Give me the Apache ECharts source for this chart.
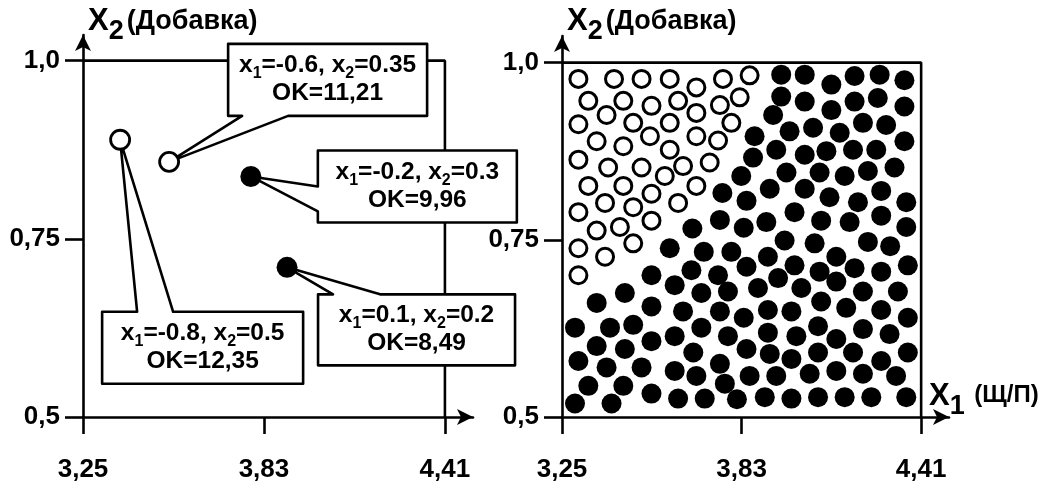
<!DOCTYPE html>
<html><head><meta charset="utf-8">
<script src="https://cdn.jsdelivr.net/npm/echarts@6/dist/echarts.min.js"></script>
<style>html,body{margin:0;padding:0;background:#fff}#c{width:1045px;height:483px}</style>
</head><body><div id="c"></div>
<script>
// ---- axis ticks ----
const xTickValues = [3.25, 3.83, 4.41];
const xTickLabels = ['3,25', '3,83', '4,41'];
const yTickValues = [0.5, 0.75, 1.0];
const yTickLabels = ['0,5', '0,75', '1,0'];
const frameLine = [[3.25, 1.0], [4.41, 1.0], [4.41, 0.5]];

// ---- left panel: four experiments ----
const leftOpenPoints = [[3.369, 0.889], [3.526, 0.858]];
const leftFilledPoints = [[3.788, 0.8375], [3.904, 0.710]];
const calloutPoints = [[3.526, 0.858], [3.788, 0.8375], [3.904, 0.710], [3.369, 0.889]];
const calloutX1 = ['-0.6', '-0.2', '0.1', '-0.8'];
const calloutX2 = ['0.35', '0.3', '0.2', '0.5'];
const calloutOK = ['11,21', '9,96', '8,49', '12,35'];

// ---- right panel: open = first class, filled = second class ----
const rightOpenPoints = [
[3.303,0.977],[3.418,0.977],[3.507,0.977],[3.598,0.977],[3.684,0.965],[3.770,0.977],[3.856,0.982],
[3.335,0.946],[3.448,0.946],[3.539,0.939],[3.625,0.946],[3.760,0.940],[3.824,0.951],
[3.303,0.913],[3.394,0.926],[3.480,0.915],[3.598,0.915],[3.684,0.929],[3.797,0.915],
[3.362,0.889],[3.448,0.882],[3.534,0.896],[3.684,0.896],[3.754,0.890],
[3.598,0.877],
[3.303,0.863],[3.399,0.852],[3.507,0.852],[3.641,0.854],[3.727,0.859],
[3.582,0.840],
[3.335,0.826],[3.448,0.826],[3.539,0.815],[3.684,0.826],
[3.389,0.802],[3.480,0.796],[3.625,0.802],
[3.303,0.789],[3.539,0.777],
[3.362,0.763],[3.437,0.768],
[3.303,0.738],[3.389,0.726],[3.480,0.745],
[3.303,0.700]
];
const rightFilledPoints = [
[3.958,0.983],[4.034,0.983],[4.120,0.969],[4.195,0.981],[4.276,0.983],[4.356,0.975],
[3.958,0.952],[4.034,0.945],[4.120,0.933],[4.195,0.945],[4.270,0.950],[4.356,0.938],
[3.932,0.926],
[3.872,0.896],[3.985,0.903],[4.061,0.908],[4.147,0.901],[4.222,0.915],[4.297,0.912],[4.356,0.889],
[3.867,0.866],[3.942,0.877],[4.034,0.870],[4.104,0.875],[4.190,0.877],[4.265,0.877],
[3.829,0.840],[3.975,0.845],[4.082,0.845],[4.163,0.840],[4.238,0.847],[4.324,0.852],
[3.768,0.816],[3.846,0.805],[3.921,0.822],[4.034,0.822],[4.114,0.810],[4.206,0.803],[4.281,0.819],[4.362,0.803],
[3.671,0.766],[3.760,0.778],[3.837,0.767],[3.910,0.775],[4.001,0.789],[4.087,0.777],[4.179,0.775],[4.281,0.784],[4.362,0.768],
[3.598,0.738],[3.708,0.733],[3.797,0.733],[3.969,0.749],[4.066,0.745],[4.238,0.747],[4.310,0.741],
[3.846,0.712],[3.915,0.726],[4.001,0.714],[4.082,0.705],[4.136,0.726],[4.195,0.710],[4.281,0.705],[4.367,0.714],
[3.883,0.682],[3.948,0.696],[4.023,0.682],[4.136,0.691],[4.222,0.677],[4.335,0.677],
[3.837,0.640],[3.915,0.651],[3.991,0.649],[4.087,0.663],[4.168,0.654],[4.281,0.651],[4.367,0.640],
[3.915,0.619],[4.007,0.614],[4.077,0.628],[4.136,0.610],[4.222,0.624],[4.308,0.617],
[3.846,0.596],[3.921,0.589],[3.991,0.582],[4.077,0.591],[4.190,0.591],[4.281,0.579],[4.367,0.591],
[3.856,0.558],[3.942,0.558],[4.050,0.561],[4.136,0.565],[4.222,0.561],[4.329,0.558],
[3.815,0.525],[3.905,0.528],[3.991,0.526],[4.077,0.528],[4.163,0.528],[4.249,0.528],[4.362,0.528],
[3.539,0.700],[3.668,0.707],[3.754,0.700],[3.614,0.686],
[3.453,0.675],[3.362,0.661],[3.539,0.656],[3.700,0.675],[3.786,0.677],[3.641,0.649],[3.760,0.649],
[3.292,0.626],[3.405,0.626],[3.480,0.630],[3.539,0.607],[3.614,0.614],[3.700,0.626],[3.786,0.614],
[3.362,0.600],[3.453,0.596],[3.674,0.591],
[3.303,0.579],[3.394,0.570],[3.507,0.570],[3.614,0.565],[3.684,0.558],[3.760,0.575],
[3.335,0.544],[3.448,0.544],[3.776,0.547],
[3.539,0.533],[3.625,0.526],[3.711,0.526],[3.292,0.519],[3.410,0.519]
];

// ---- layout (pixel offsets of each callout box from its point) ----
const calloutLayout = [
  {dx: 59, dy: -118, w: 199, h: 72, side: 'bottom', a: 14, b: 60},
  {dx: 67, dy: -26, w: 199, h: 72, side: 'left', a: 36, b: 61},
  {dx: 31, dy: 27, w: 197, h: 71, side: 'top', a: 15, b: 62},
  {dx: -18, dy: 172, w: 201, h: 72, side: 'top', a: 35, b: 71}
];

const FONT = '"Liberation Sans", Arial, Helvetica, sans-serif';
function tickLabel(values, labels) {
  return function (v) {
    const i = values.findIndex(t => Math.abs(t - v) < 1e-6);
    return i >= 0 ? labels[i] : '';
  };
}
const lineStyle = {color: '#000', width: 2.6};
function makeX(gi) {
  return {
    gridIndex: gi, type: 'value', min: 3.25, max: 4.5,
    axisLine: {show: true, onZero: false, lineStyle, symbol: ['none', 'arrow'], symbolSize: [12, 16]},
    axisTick: {show: true, customValues: xTickValues, length: 17, lineStyle},
    axisLabel: {show: true, customValues: xTickValues, formatter: tickLabel(xTickValues, xTickLabels),
      margin: 40, fontSize: 26, fontWeight: 'bold', color: '#000', fontFamily: FONT},
    splitLine: {show: false}
  };
}
function makeY(gi, max) {
  return {
    gridIndex: gi, type: 'value', min: 0.5, max: max,
    axisLine: {show: true, onZero: false, lineStyle, symbol: ['none', 'arrow'], symbolSize: [12, 16]},
    axisTick: {show: true, customValues: yTickValues, length: 18, lineStyle},
    axisLabel: {show: true, customValues: yTickValues, formatter: tickLabel(yTickValues, yTickLabels),
      margin: 23, fontSize: 26, fontWeight: 'bold', color: '#000', fontFamily: FONT},
    splitLine: {show: false}
  };
}

function makeRich(tSize) {
  return {
    x: {fontSize: 31, fontWeight: 'bold', fontFamily: FONT, color: '#000', lineHeight: 30, verticalAlign: 'top'},
    s: {fontSize: 27, fontWeight: 'bold', fontFamily: FONT, color: '#000', lineHeight: 27, padding: [12, 1, 0, 0], verticalAlign: 'top'},
    t: {fontSize: tSize, fontWeight: 'bold', fontFamily: FONT, color: '#000', lineHeight: 30, padding: [2, 0, 0, 2], verticalAlign: 'top'}
  };
}
const calloutRich = {
  n: {fontSize: 24.5, fontWeight: 'bold', fontFamily: FONT, fill: '#000', lineHeight: 28, verticalAlign: 'top'},
  s: {fontSize: 16, fontWeight: 'bold', fontFamily: FONT, fill: '#000', lineHeight: 16, padding: [13, 0, 0, 0], verticalAlign: 'top'}
};

function renderCallout(params, api) {
  const i = params.dataIndex;
  const p = api.coord([api.value(0), api.value(1)]);
  const L = calloutLayout[i];
  const x0 = p[0] + L.dx, y0 = p[1] + L.dy, x1 = x0 + L.w, y1 = y0 + L.h;
  let pts;
  if (L.side === 'bottom') pts = [[x0, y0], [x1, y0], [x1, y1], [x0 + L.b, y1], p, [x0 + L.a, y1], [x0, y1]];
  else if (L.side === 'left') pts = [[x0, y0], [x1, y0], [x1, y1], [x0, y1], [x0, y0 + L.b], p, [x0, y0 + L.a]];
  else pts = [[x0, y0], [x0 + L.a, y0], p, [x0 + L.b, y0], [x1, y0], [x1, y1], [x0, y1]];
  const txt = '{n|x}{s|1}{n|=' + calloutX1[i] + ', x}{s|2}{n|=' + calloutX2[i] + '}\n{n|OK=' + calloutOK[i] + '}';
  return {
    type: 'group',
    children: [
      {type: 'polygon', shape: {points: pts}, style: {fill: '#fff', stroke: '#000', lineWidth: 2.6, lineJoin: 'round'}},
      {type: 'text', style: {x: (x0 + x1) / 2, y: (y0 + y1) / 2 + 1, text: txt, rich: calloutRich,
        align: 'center', verticalAlign: 'middle', fill: '#000', fontSize: 24.5, fontWeight: 'bold', fontFamily: FONT}}
    ]
  };
}

const chart = echarts.init(document.getElementById('c'), null, {renderer: 'canvas'});
chart.setOption({
  animation: false,
  backgroundColor: '#fff',
  title: [
    {left: 88, top: 6, padding: 0, text: '{x|X}{s|2}{t|(Добавка)}', textStyle: {rich: makeRich(27)}},
    {left: 567, top: 6, padding: 0, text: '{x|X}{s|2}{t|(Добавка)}', textStyle: {rich: makeRich(27)}},
    {left: 929, top: 381, padding: 0, text: '{x|X}{s|1}{t| (Щ/П)}', textStyle: {rich: makeRich(24)}}
  ],
  grid: [
    {left: 83, right: 572, top: 35, bottom: 62},
    {left: 562, right: 96, top: 36, bottom: 60.5}
  ],
  xAxis: [makeX(0), makeX(1)],
  yAxis: [makeY(0, 1.036), makeY(1, 1.0375)],
  series: [
    {type: 'line', xAxisIndex: 0, yAxisIndex: 0, data: frameLine, symbol: 'none', silent: true, z: 1,
      lineStyle: {color: '#000', width: 2.6}},
    {type: 'line', xAxisIndex: 1, yAxisIndex: 1, data: frameLine, symbol: 'none', silent: true, z: 1,
      lineStyle: {color: '#000', width: 2.6}},
    {type: 'custom', xAxisIndex: 0, yAxisIndex: 0, coordinateSystem: 'cartesian2d', data: calloutPoints,
      renderItem: renderCallout, silent: true, z: 2, clip: false},
    {type: 'scatter', xAxisIndex: 0, yAxisIndex: 0, data: leftOpenPoints, symbol: 'circle', symbolSize: 19,
      itemStyle: {color: '#fff', borderColor: '#000', borderWidth: 2.8, opacity: 1}, silent: true, z: 3, clip: false},
    {type: 'scatter', xAxisIndex: 0, yAxisIndex: 0, data: leftFilledPoints, symbol: 'circle', symbolSize: 21,
      itemStyle: {color: '#000', opacity: 1}, silent: true, z: 3, clip: false},
    {type: 'scatter', xAxisIndex: 1, yAxisIndex: 1, data: rightOpenPoints, symbol: 'circle', symbolSize: 17,
      itemStyle: {color: '#fff', borderColor: '#000', borderWidth: 3, opacity: 1}, silent: true, z: 3, clip: false},
    {type: 'scatter', xAxisIndex: 1, yAxisIndex: 1, data: rightFilledPoints, symbol: 'circle', symbolSize: 20,
      itemStyle: {color: '#000', opacity: 1}, silent: true, z: 3, clip: false}
  ]
});
</script></body></html>
